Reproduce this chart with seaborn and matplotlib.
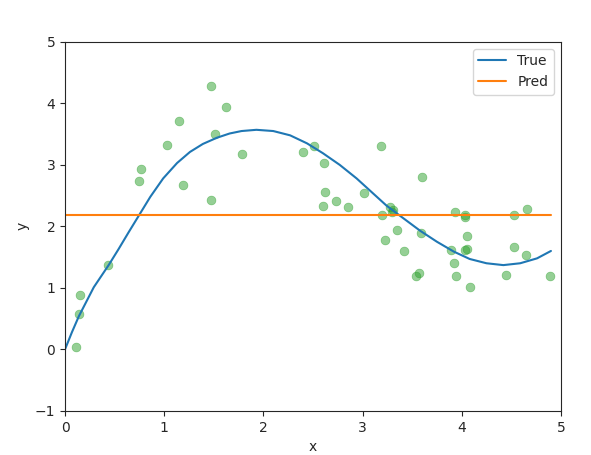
import matplotlib
matplotlib.use("Agg")
import matplotlib.pyplot as plt
import seaborn as sns

# noisy samples
x_data = [0.111, 0.138, 0.155, 0.437, 0.750, 0.770, 1.030, 1.152, 1.193, 1.475,
          1.475, 1.515, 1.626, 1.787, 2.402, 2.513, 2.614, 2.624, 2.604, 2.735,
          2.853, 3.017, 3.189, 3.196, 3.276, 3.310, 3.293, 3.350, 3.227, 3.420,
          3.600, 3.592, 3.569, 3.540, 3.935, 4.036, 4.036, 4.056, 3.891, 4.036,
          4.056, 3.925, 3.945, 4.083, 4.530, 4.657, 4.530, 4.647, 4.450, 4.890]
y_data = [0.04, 0.57, 0.88, 1.37, 2.73, 2.93, 3.32, 3.71, 2.67, 4.28,
          2.43, 3.50, 3.94, 3.18, 3.21, 3.31, 3.03, 2.56, 2.33, 2.41,
          2.32, 2.54, 3.31, 2.19, 2.32, 2.27, 2.24, 1.94, 1.78, 1.60,
          2.80, 1.89, 1.24, 1.19, 2.24, 2.19, 2.15, 1.84, 1.62, 1.62,
          1.63, 1.40, 1.19, 1.02, 2.19, 2.28, 1.66, 1.53, 1.21, 1.20]

# true function
x_true = [0.0, 0.07, 0.14, 0.29, 0.44, 0.54, 0.64, 0.75, 0.86, 0.99, 1.13, 1.26,
          1.39, 1.53, 1.66, 1.78, 1.93, 2.10, 2.27, 2.44, 2.60, 2.77,
          2.94, 3.09, 3.24, 3.38, 3.58, 3.75, 3.92, 4.08, 4.25, 4.42,
          4.59, 4.76, 4.90]
y_true = [0.0, 0.28, 0.54, 1.01, 1.37, 1.63, 1.90, 2.19, 2.48, 2.78, 3.03, 3.21,
          3.34, 3.44, 3.51, 3.55, 3.57, 3.55, 3.48, 3.35, 3.19, 3.00,
          2.78, 2.56, 2.34, 2.17, 1.93, 1.75, 1.59, 1.47, 1.40, 1.37,
          1.40, 1.48, 1.60]

# constant prediction
x_pred = [0.0, 4.90]
y_pred = [2.19, 2.19]

sns.set_style("ticks")
plt.rcParams["font.family"] = ["DejaVu Sans"]

fig, ax = plt.subplots(figsize=(5.91, 4.55), dpi=100)
fig.subplots_adjust(left=0.11, right=0.949, bottom=0.097, top=0.908)

sns.scatterplot(x=x_data, y=y_data, color="tab:green", alpha=0.5, s=40,
                edgecolor="face", linewidth=0.5, ax=ax)
sns.lineplot(x=x_true, y=y_true, color="tab:blue", label="True", sort=False,
             estimator=None, linewidth=1.5, ax=ax)
sns.lineplot(x=x_pred, y=y_pred, color="tab:orange", label="Pred", sort=False,
             estimator=None, linewidth=1.5, ax=ax)

ax.set_xlim(0, 5)
ax.set_ylim(-1, 5)
ax.set_xlabel("x")
ax.set_ylabel("y")
ax.legend(loc="upper right")

plt.savefig("out.png", dpi=100)
